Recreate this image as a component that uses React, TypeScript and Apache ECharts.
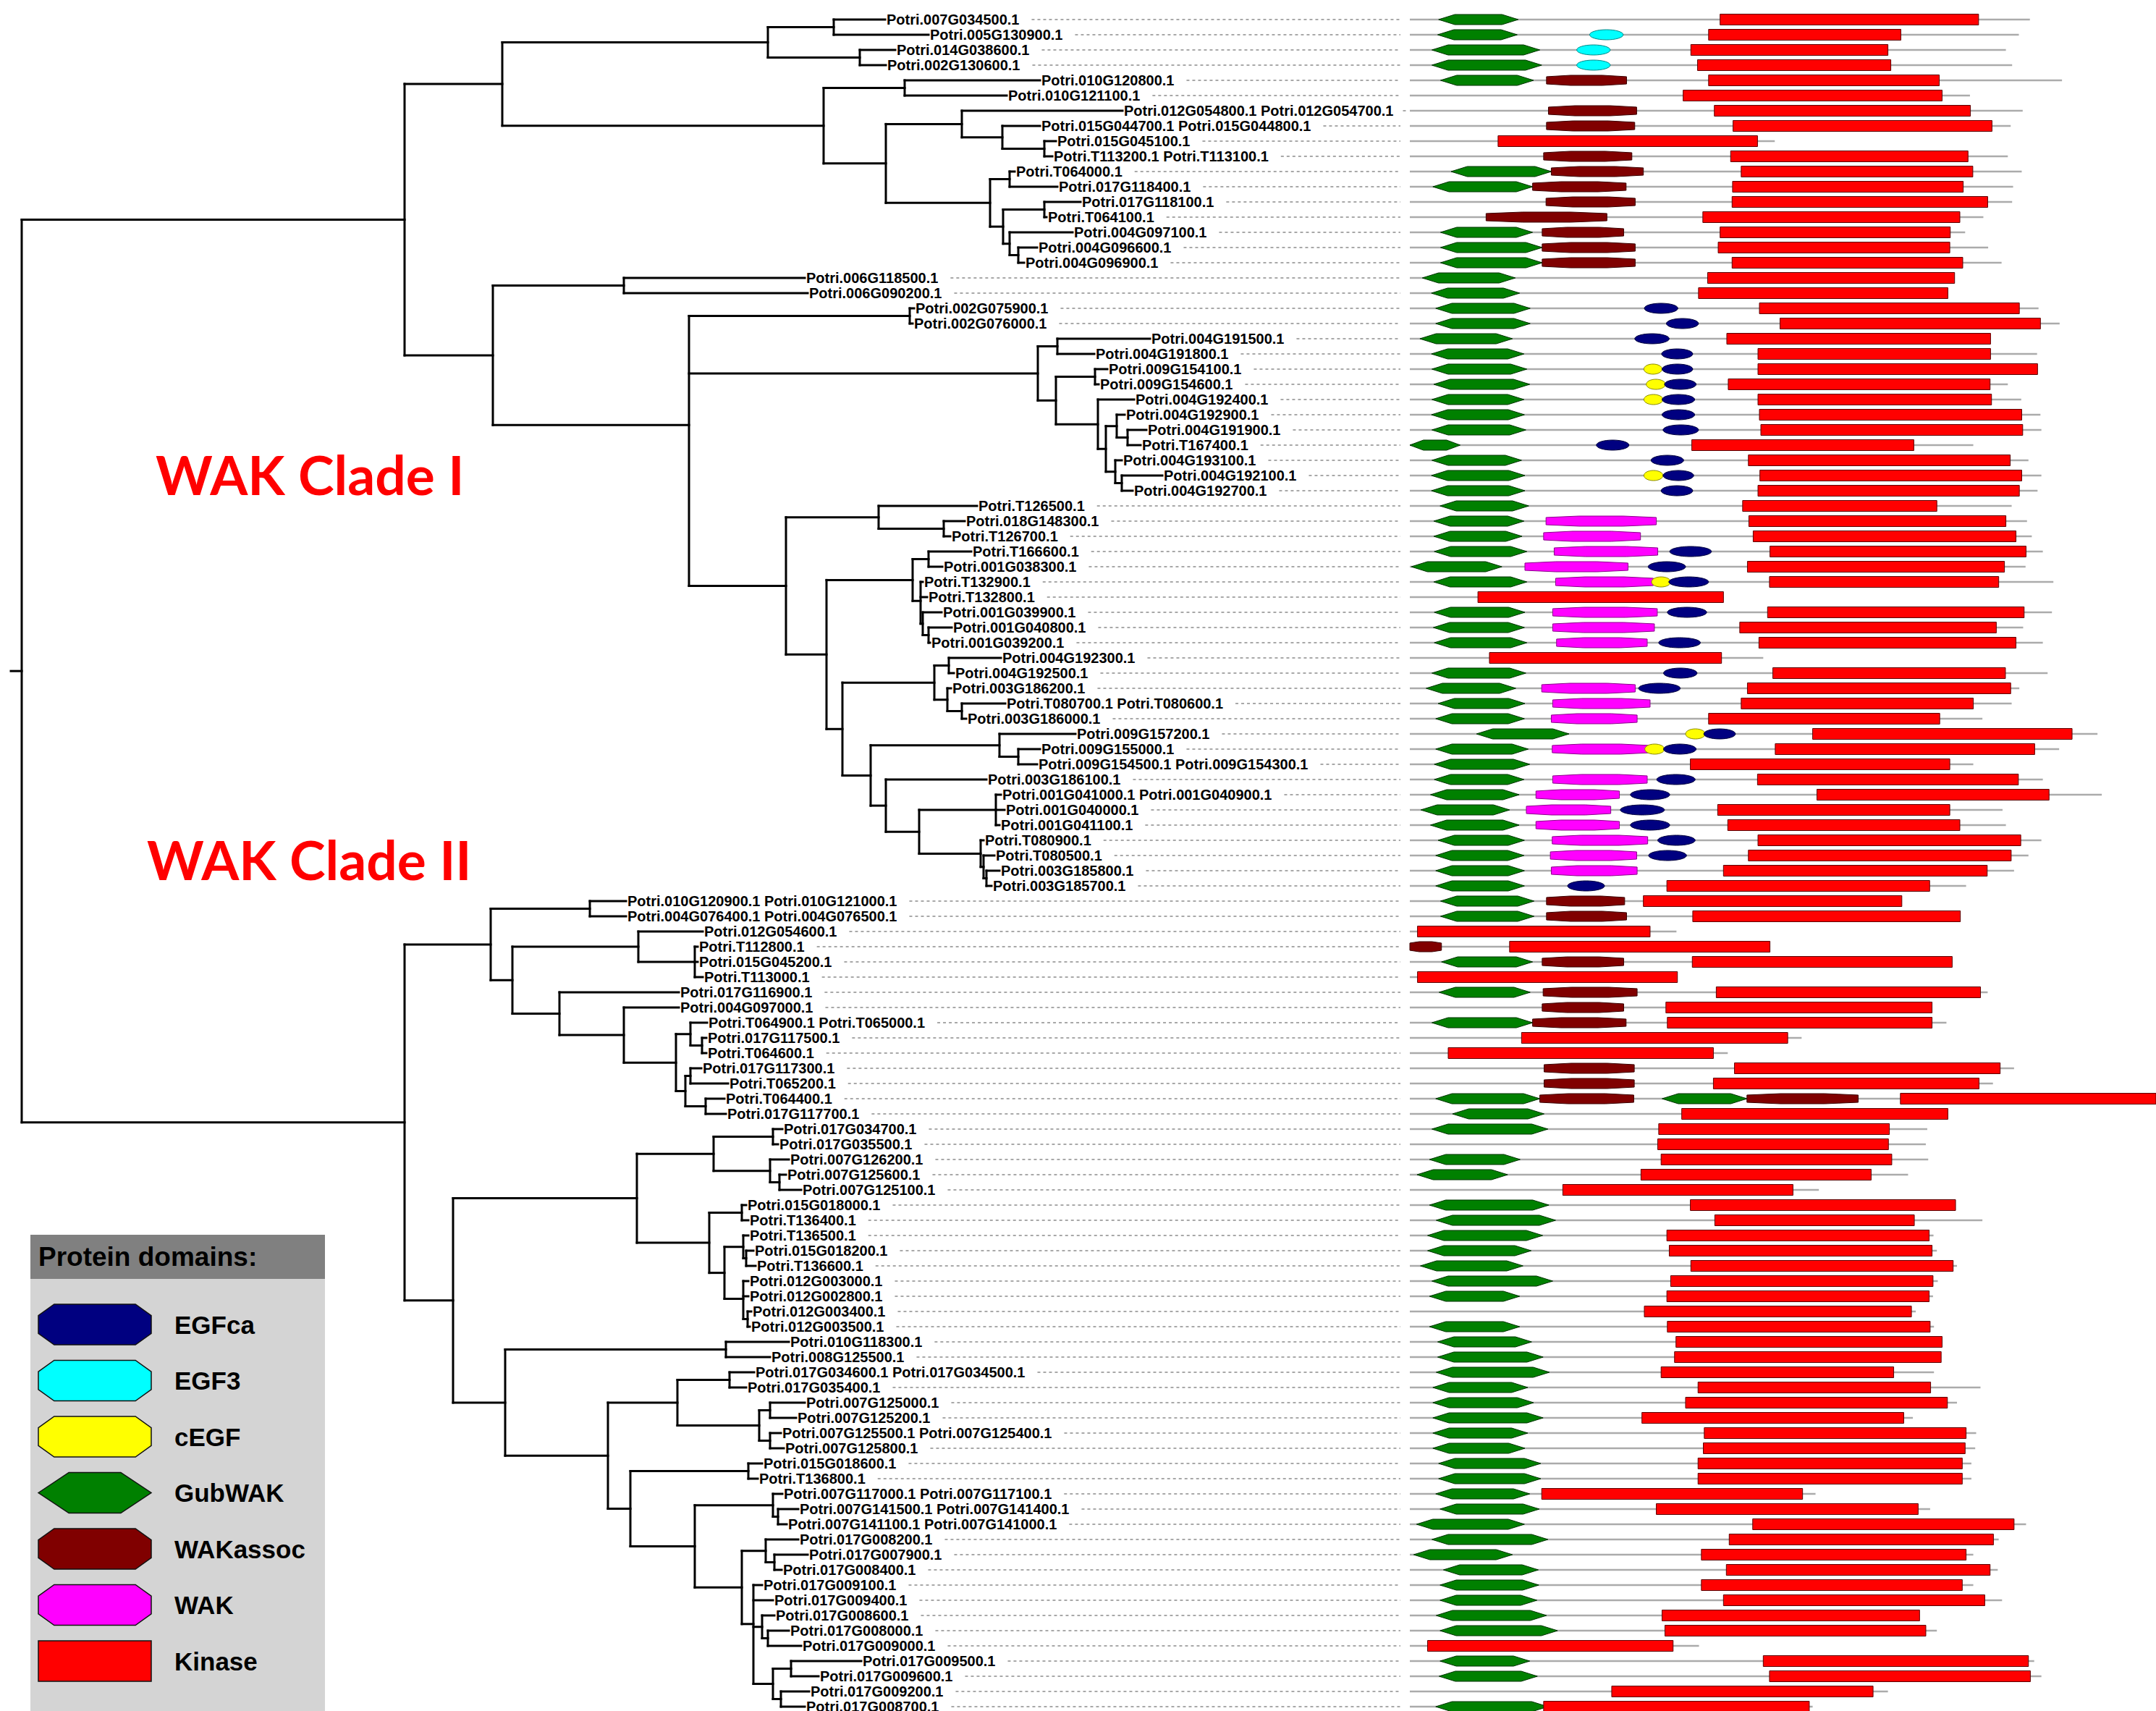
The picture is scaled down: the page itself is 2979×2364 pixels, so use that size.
import React, { useEffect, useRef } from "react";
import * as echarts from "echarts";

// ---------------- DATA ----------------
const leafLabels: string[] = [
  "Potri.007G034500.1", "Potri.005G130900.1", "Potri.014G038600.1", "Potri.002G130600.1",
  "Potri.010G120800.1", "Potri.010G121100.1", "Potri.012G054800.1 Potri.012G054700.1",
  "Potri.015G044700.1 Potri.015G044800.1", "Potri.015G045100.1", "Potri.T113200.1 Potri.T113100.1",
  "Potri.T064000.1", "Potri.017G118400.1", "Potri.017G118100.1", "Potri.T064100.1",
  "Potri.004G097100.1", "Potri.004G096600.1", "Potri.004G096900.1", "Potri.006G118500.1",
  "Potri.006G090200.1", "Potri.002G075900.1", "Potri.002G076000.1", "Potri.004G191500.1",
  "Potri.004G191800.1", "Potri.009G154100.1", "Potri.009G154600.1", "Potri.004G192400.1",
  "Potri.004G192900.1", "Potri.004G191900.1", "Potri.T167400.1", "Potri.004G193100.1",
  "Potri.004G192100.1", "Potri.004G192700.1", "Potri.T126500.1", "Potri.018G148300.1",
  "Potri.T126700.1", "Potri.T166600.1", "Potri.001G038300.1", "Potri.T132900.1",
  "Potri.T132800.1", "Potri.001G039900.1", "Potri.001G040800.1", "Potri.001G039200.1",
  "Potri.004G192300.1", "Potri.004G192500.1", "Potri.003G186200.1", "Potri.T080700.1 Potri.T080600.1",
  "Potri.003G186000.1", "Potri.009G157200.1", "Potri.009G155000.1", "Potri.009G154500.1 Potri.009G154300.1",
  "Potri.003G186100.1", "Potri.001G041000.1 Potri.001G040900.1", "Potri.001G040000.1", "Potri.001G041100.1",
  "Potri.T080900.1", "Potri.T080500.1", "Potri.003G185800.1", "Potri.003G185700.1",
  "Potri.010G120900.1 Potri.010G121000.1", "Potri.004G076400.1 Potri.004G076500.1", "Potri.012G054600.1", "Potri.T112800.1",
  "Potri.015G045200.1", "Potri.T113000.1", "Potri.017G116900.1", "Potri.004G097000.1",
  "Potri.T064900.1 Potri.T065000.1", "Potri.017G117500.1", "Potri.T064600.1", "Potri.017G117300.1",
  "Potri.T065200.1", "Potri.T064400.1", "Potri.017G117700.1", "Potri.017G034700.1",
  "Potri.017G035500.1", "Potri.007G126200.1", "Potri.007G125600.1", "Potri.007G125100.1",
  "Potri.015G018000.1", "Potri.T136400.1", "Potri.T136500.1", "Potri.015G018200.1",
  "Potri.T136600.1", "Potri.012G003000.1", "Potri.012G002800.1", "Potri.012G003400.1",
  "Potri.012G003500.1", "Potri.010G118300.1", "Potri.008G125500.1", "Potri.017G034600.1 Potri.017G034500.1",
  "Potri.017G035400.1", "Potri.007G125000.1", "Potri.007G125200.1", "Potri.007G125500.1 Potri.007G125400.1",
  "Potri.007G125800.1", "Potri.015G018600.1", "Potri.T136800.1", "Potri.007G117000.1 Potri.007G117100.1",
  "Potri.007G141500.1 Potri.007G141400.1", "Potri.007G141100.1 Potri.007G141000.1", "Potri.017G008200.1", "Potri.017G007900.1",
  "Potri.017G008400.1", "Potri.017G009100.1", "Potri.017G009400.1", "Potri.017G008600.1",
  "Potri.017G008000.1", "Potri.017G009000.1", "Potri.017G009500.1", "Potri.017G009600.1",
  "Potri.017G009200.1", "Potri.017G008700.1",
];

// Tree: leaves are row numbers (1-based); value after ":" is the node's distance from the root.
const cladeOneTree =
  "((((1:1193,2:1253):1122,(3:1207,4:1194):1158):1031," +
  "((5:1407,6:1361):1220,((7:1521,(8:1407,(9:1429,10:1424):1413):1355):1299,((11:1372,12:1431):1365,((13:1463,14:1416):1413,(15:1452,(16:1403,17:1385):1377):1365):1356):1338):1194):1108):664," +
  "((18:1082,19:1086):832," +
  "((20:1233,21:1231):1227," +
  "((22:1559,23:1482):1431,((24:1500,25:1488):1483,(26:1537,((27:1524,(28:1554,29:1546):1528):1513,(30:1520,(31:1576,32:1535):1520):1511):1498):1487):1429):1404," +
  "((33:1320,(34:1303,35:1283):1274):1184,(((36:1312,37:1272):1253,(38:1245,39:1251,(40:1271,(41:1285,42:1255):1253):1245):1242):1231," +
  "(((43:1353,44:1288):1281,(45:1284,(46:1359,47:1305):1299):1279):1261,((48:1456,(49:1407,50:1403):1377):1351,(51:1333,((52:1353,53:1358,54:1351):1346,(55:1329,(56:1344,(57:1351,58:1340):1333):1329):1325):1240):1194):1173):1134):1112):1056" +
  "):922):651):529";
const cladeTwoTree =
  "(((59:835,60:835):785,((61:941,(62:934,63:934,64:941):930):852,(65:908,(66:908,((67:947,(68:946,69:946):940):924,((70:939,71:976):924,(72:971,73:973):945):917):904):832):743):678):648," +
  "((((74:1051,75:1045):1038,(76:1060,(77:1056,78:1077):1047):1034):956,((79:1001,80:1004):995,((81:1004,(82:1011,83:1014):1001):997,(84:1004,85:1004,(86:1008,87:1006):1003):997):971):950):850," +
  "((88:1060,89:1034):973,(((90:1012,91:1001):978,((92:1082,93:1070):1034,(94:1049,95:1053):1034):1019):906,((96:1023,97:1017):1004,((98:1051,(99:1073,100:1057):1045):1038,((101:1073,(102:1086,103:1050):1040):1028,(104:1023,105:1038,(106:1040,(107:1060,108:1077):1031):1023,((109:1160,110:1101):1063,(111:1088,112:1082):1049):1038):1011):995):930):841):810):668" +
  "):596):529";
const treeNewick = "(" + cladeOneTree + "," + cladeTwoTree + "):0";
const rootStem = 15;

// protein length (aa-like units) per row
const proteinLength: number[] = [
  1293, 1270, 1243, 1256, 1360, 1168, 1278, 1253, 761, 1247,
  1276, 1258, 1256, 1196, 1158, 1206, 1234, 1136, 1122, 1311,
  1355, 1211, 1308, 1309, 1247, 1275, 1315, 1317, 1175, 1290,
  1317, 1309, 1255, 1287, 1297, 1320, 1284, 1342, 654, 1339,
  1279, 1320, 737, 1330, 1271, 1255, 1194, 1434, 1354, 1175,
  1320, 1443, 1236, 1243, 1317, 1290, 1260, 1160, 1026, 1148,
  556, 751, 1131, 558, 1205, 1089, 1119, 817, 663, 1260,
  1216, 1556, 1122, 1079, 1076, 1081, 1039, 853, 1138, 1194,
  1092, 1099, 1141, 1101, 1091, 1055, 1093, 1110, 1108, 1093,
  1190, 1141, 1049, 1181, 1179, 1171, 1171, 846, 1085, 1285,
  1228, 1175, 1226, 1175, 1235, 1063, 1099, 603, 1302, 1317,
  997, 840,
];

// domain features per row: [code, start, end]
// E=EGFca, C=EGF3, Y=cEGF, G=GubWAK, A=WAKassoc, W=WAK, K=Kinase
type Feat = [string, number, number];
const domainFeatures: Feat[][] = [
  [["G", 60, 226], ["K", 647, 1186]],
  [["G", 58, 224], ["C", 375, 445], ["K", 623, 1024]],
  [["G", 46, 271], ["C", 348, 418], ["K", 586, 997]],
  [["G", 46, 275], ["C", 348, 418], ["K", 600, 1003]],
  [["G", 64, 258], ["A", 285, 452], ["K", 623, 1104]],
  [["K", 570, 1110]],
  [["A", 289, 473], ["K", 635, 1169]],
  [["A", 285, 469], ["K", 674, 1214]],
  [["K", 184, 725]],
  [["A", 279, 463], ["K", 669, 1164]],
  [["G", 86, 295], ["A", 295, 487], ["K", 691, 1174]],
  [["G", 48, 256], ["A", 256, 451], ["K", 673, 1154]],
  [["A", 284, 470], ["K", 672, 1205]],
  [["A", 159, 411], ["K", 611, 1147]],
  [["G", 64, 256], ["A", 276, 446], ["K", 647, 1127]],
  [["G", 64, 276], ["A", 276, 470], ["K", 643, 1126]],
  [["G", 64, 276], ["A", 276, 470], ["K", 672, 1153]],
  [["G", 26, 220], ["K", 621, 1136]],
  [["G", 45, 229], ["K", 602, 1122]],
  [["G", 54, 251], ["E", 489, 559], ["K", 729, 1271]],
  [["G", 54, 251], ["E", 535, 602], ["K", 772, 1315]],
  [["G", 21, 214], ["E", 469, 541], ["K", 661, 1211]],
  [["G", 45, 238], ["E", 525, 590], ["K", 726, 1211]],
  [["G", 46, 244], ["Y", 488, 526], ["E", 526, 590], ["K", 726, 1309]],
  [["G", 50, 250], ["Y", 493, 533], ["E", 531, 597], ["K", 664, 1210]],
  [["G", 46, 238], ["Y", 488, 528], ["E", 526, 594], ["K", 726, 1213]],
  [["G", 45, 239], ["E", 526, 594], ["K", 729, 1276]],
  [["G", 46, 242], ["E", 528, 602], ["K", 732, 1278]],
  [["G", 0, 105], ["E", 389, 457], ["K", 588, 1051]],
  [["G", 46, 233], ["E", 503, 571], ["K", 706, 1252]],
  [["G", 45, 240], ["Y", 488, 528], ["E", 528, 592], ["K", 730, 1276]],
  [["G", 45, 240], ["E", 524, 590], ["K", 726, 1271]],
  [["G", 63, 248], ["K", 694, 1099]],
  [["G", 50, 238], ["W", 284, 514], ["K", 707, 1243]],
  [["G", 50, 234], ["W", 279, 481], ["K", 716, 1264]],
  [["G", 51, 244], ["W", 301, 517], ["E", 542, 629], ["K", 751, 1285]],
  [["G", 3, 192], ["W", 240, 455], ["E", 497, 575], ["K", 704, 1240]],
  [["G", 50, 244], ["W", 304, 508], ["Y", 504, 544], ["E", 540, 623], ["K", 750, 1228]],
  [["K", 142, 654]],
  [["G", 51, 240], ["W", 298, 516], ["E", 537, 619], ["K", 746, 1281]],
  [["G", 49, 239], ["W", 298, 510], ["K", 688, 1223]],
  [["G", 51, 244], ["W", 306, 495], ["E", 519, 606], ["K", 728, 1264]],
  [["K", 166, 650]],
  [["G", 46, 242], ["E", 529, 599], ["K", 757, 1242]],
  [["G", 34, 221], ["W", 275, 470], ["E", 477, 564], ["K", 704, 1253]],
  [["G", 59, 240], ["W", 298, 501], ["K", 691, 1175]],
  [["G", 54, 239], ["W", 295, 474], ["K", 623, 1105]],
  [["G", 139, 332], ["Y", 575, 616], ["E", 613, 679], ["K", 840, 1381]],
  [["G", 54, 247], ["W", 297, 501], ["Y", 490, 531], ["E", 529, 597], ["K", 762, 1303]],
  [["G", 51, 250], ["K", 585, 1126]],
  [["G", 51, 238], ["W", 298, 495], ["E", 515, 595], ["K", 725, 1269]],
  [["G", 43, 228], ["W", 263, 437], ["E", 460, 542], ["K", 849, 1333]],
  [["G", 23, 208], ["W", 243, 419], ["E", 439, 531], ["K", 642, 1126]],
  [["G", 43, 228], ["W", 263, 437], ["E", 460, 542], ["K", 663, 1147]],
  [["G", 59, 239], ["W", 297, 496], ["E", 517, 595], ["K", 726, 1274]],
  [["G", 54, 238], ["W", 293, 473], ["E", 498, 577], ["K", 706, 1254]],
  [["G", 54, 239], ["W", 295, 474], ["K", 654, 1204]],
  [["G", 54, 239], ["E", 329, 406], ["K", 536, 1084]],
  [["G", 64, 259], ["A", 285, 448], ["K", 487, 1026]],
  [["G", 64, 259], ["A", 285, 452], ["K", 590, 1148]],
  [["K", 16, 501]],
  [["A", 0, 66], ["K", 208, 751]],
  [["G", 66, 256], ["A", 276, 446], ["K", 589, 1131]],
  [["K", 16, 558]],
  [["G", 61, 251], ["A", 278, 474], ["K", 639, 1190]],
  [["A", 276, 446], ["K", 534, 1089]],
  [["G", 46, 256], ["A", 256, 451], ["K", 537, 1089]],
  [["K", 233, 788]],
  [["K", 80, 633]],
  [["A", 280, 468], ["K", 677, 1231]],
  [["A", 280, 468], ["K", 633, 1187]],
  [["G", 54, 271], ["A", 271, 467], ["G", 526, 703], ["A", 703, 935], ["K", 1023, 1556]],
  [["G", 89, 280], ["K", 567, 1122]],
  [["G", 46, 288], ["K", 519, 1000]],
  [["K", 517, 998]],
  [["G", 41, 230], ["K", 524, 1005]],
  [["G", 15, 204], ["K", 482, 962]],
  [["K", 319, 799]],
  [["G", 41, 290], ["K", 585, 1138]],
  [["G", 55, 304], ["K", 636, 1052]],
  [["G", 37, 277], ["K", 536, 1083]],
  [["G", 37, 253], ["K", 541, 1089]],
  [["G", 22, 236], ["K", 586, 1133]],
  [["G", 46, 298], ["K", 544, 1091]],
  [["G", 41, 229], ["K", 536, 1083]],
  [["K", 489, 1046]],
  [["G", 41, 229], ["K", 537, 1085]],
  [["G", 58, 254], ["K", 555, 1110]],
  [["G", 58, 278], ["K", 552, 1108]],
  [["G", 55, 291], ["K", 524, 1009]],
  [["G", 48, 246], ["K", 601, 1086]],
  [["G", 48, 258], ["K", 575, 1121]],
  [["G", 48, 278], ["K", 484, 1030]],
  [["G", 48, 246], ["K", 614, 1160]],
  [["G", 48, 240], ["K", 612, 1158]],
  [["G", 60, 273], ["K", 601, 1152]],
  [["G", 60, 273], ["K", 601, 1152]],
  [["G", 54, 250], ["K", 275, 819]],
  [["G", 63, 270], ["K", 514, 1060]],
  [["G", 14, 239], ["K", 715, 1260]],
  [["G", 46, 288], ["K", 666, 1217]],
  [["G", 8, 214], ["K", 608, 1160]],
  [["G", 70, 268], ["K", 660, 1210]],
  [["G", 63, 269], ["K", 608, 1152]],
  [["G", 63, 265], ["K", 654, 1199]],
  [["G", 55, 285], ["K", 526, 1063]],
  [["G", 63, 308], ["K", 532, 1076]],
  [["K", 37, 549]],
  [["G", 63, 250], ["K", 737, 1290]],
  [["G", 61, 266], ["K", 750, 1294]],
  [["K", 421, 966]],
  [["G", 54, 288], ["K", 279, 833]],
];

const domainCodes: string[] = ["E", "C", "Y", "G", "A", "W", "K"];
const domainNames: string[] = ["EGFca", "EGF3", "cEGF", "GubWAK", "WAKassoc", "WAK", "Kinase"];
const cladeTitles: string[] = ["WAK Clade I", "WAK Clade II"];
const legendTitle = "Protein domains:";

// ---------------- STYLE / LAYOUT ----------------
const W = 2979;
const H = 2364;
const FIRST_ROW_Y = 27;
const ROW_PITCH = 21;
const TREE_RIGHT = 1948; // px where the domain panel starts
const ROOT_X = 30;
const DOMAIN_MAX = 1556;

const domainFill: Record<string, string> = {
  E: "#000080", C: "#00ffff", Y: "#ffff00", G: "#008000", A: "#800000", W: "#ff00ff", K: "#ff0000",
};
const domainStroke: Record<string, string> = {
  E: "#00003a", C: "#008888", Y: "#8a8a00", G: "#003300", A: "#3a0000", W: "#8a008a", K: "#5a0000",
};

const LABEL_FONT_SIZE = 20;
const LABEL_FONT_WEIGHT = "bold";
const LABEL_FONT_FAMILY = '"Liberation Sans", Arial, sans-serif';

// ---------------- HELPERS ----------------
type TNode = { depth: number; leaf?: number; children: TNode[] };

function parseNewick(s: string): TNode {
  let i = 0;
  const num = () => {
    const j = i;
    while (i < s.length && /[0-9.\-]/.test(s[i])) i++;
    return parseFloat(s.slice(j, i));
  };
  const node = (): TNode => {
    const n: TNode = { depth: 0, children: [] };
    if (s[i] === "(") {
      i++;
      n.children.push(node());
      while (s[i] === ",") {
        i++;
        n.children.push(node());
      }
      i++; // ')'
    } else {
      n.leaf = num();
    }
    if (s[i] === ":") {
      i++;
      n.depth = num();
    }
    return n;
  };
  return node();
}

function buildTree() {
  const root = parseNewick(treeNewick);
  const segments: number[][] = [];
  const tips: number[][] = [];
  const walk = (n: TNode): number => {
    if (n.leaf !== undefined) {
      const y = n.leaf - 1;
      tips.push([n.depth, y, n.leaf - 1]);
      return y;
    }
    const ys = n.children.map(walk);
    const y = ys.reduce((a, b) => a + b, 0) / ys.length;
    segments.push([n.depth, Math.min(...ys), n.depth, Math.max(...ys)]);
    n.children.forEach((c, k) => segments.push([n.depth, ys[k], c.depth, ys[k]]));
    return y;
  };
  const ry = walk(root);
  segments.push([root.depth - rootStem, ry, root.depth, ry]);
  return { segments, tips };
}

let measureCtx: CanvasRenderingContext2D | null = null;
function textWidth(s: string, font: string): number {
  if (!measureCtx) measureCtx = document.createElement("canvas").getContext("2d");
  if (!measureCtx) return s.length * 10;
  measureCtx.font = font;
  return measureCtx.measureText(s).width;
}

function shapeFor(code: string, x0: number, x1: number, yc: number, h: number, legend = false): any {
  const w = x1 - x0;
  const top = yc - h / 2;
  const bot = yc + h / 2;
  const style = { fill: domainFill[code], stroke: legend ? "#111" : domainStroke[code], lineWidth: legend ? 1.5 : 1 };
  if (code === "K") {
    return { type: "rect", shape: { x: x0, y: top, width: w, height: h }, style };
  }
  if (code === "G") {
    const d = Math.min(w * 0.27, h * 1.6);
    return {
      type: "polygon",
      shape: { points: [[x0, yc], [x0 + d, top], [x1 - d, top], [x1, yc], [x1 - d, bot], [x0 + d, bot]] },
      style,
    };
  }
  if (code === "A" || code === "W" || legend) {
    const dx = legend ? w * 0.14 : w * 0.3;
    const dy = legend ? h * 0.22 : h * 0.36;
    return {
      type: "polygon",
      shape: {
        points: [
          [x0, yc - dy], [x0 + dx, top], [x1 - dx, top], [x1, yc - dy],
          [x1, yc + dy], [x1 - dx, bot], [x0 + dx, bot], [x0, yc + dy],
        ],
      },
      style,
    };
  }
  return { type: "ellipse", shape: { cx: (x0 + x1) / 2, cy: yc, rx: w / 2, ry: h / 2 }, style };
}

// ---------------- COMPONENT ----------------
export default function App() {
  const ref = useRef<HTMLDivElement>(null);

  useEffect(() => {
    if (!ref.current) return;
    const chart = echarts.init(ref.current, undefined, { renderer: "svg", width: W, height: H });
    const { segments, tips } = buildTree();

    const backbone = proteinLength.map((len, r) => [r, len]);
    const domainData: number[][] = [];
    domainFeatures.forEach((row, r) =>
      row.forEach(([code, s, e]) => domainData.push([s, e, r, domainCodes.indexOf(code)]))
    );

    const yMin = -FIRST_ROW_Y / ROW_PITCH;
    const yMax = (H - FIRST_ROW_Y) / ROW_PITCH;
    const labelFont = `${LABEL_FONT_WEIGHT} ${LABEL_FONT_SIZE}px ${LABEL_FONT_FAMILY}`;

    // legend graphic
    const legendX = 42;
    const legendW = 407;
    const legendTop = 1706;
    const headerH = 61;
    const itemY0 = 1830;
    const itemStep = 77.5;
    const legendChildren: any[] = [
      { type: "rect", shape: { x: legendX, y: legendTop, width: legendW, height: headerH }, style: { fill: "#808080" } },
      { type: "rect", shape: { x: legendX, y: legendTop + headerH, width: legendW, height: H - legendTop - headerH }, style: { fill: "#d4d4d4" } },
      {
        type: "text", x: 53, y: legendTop + headerH / 2,
        style: { text: legendTitle, fontSize: 37, fontWeight: "bold", fontFamily: LABEL_FONT_FAMILY, fill: "#000", verticalAlign: "middle", align: "left" },
      },
    ];
    domainNames.forEach((name, k) => {
      const yc = itemY0 + k * itemStep;
      legendChildren.push(shapeFor(domainCodes[k], 53, 209, yc, 56, true));
      legendChildren.push({
        type: "text", x: 241, y: yc,
        style: { text: name, fontSize: 35, fontWeight: "bold", fontFamily: LABEL_FONT_FAMILY, fill: "#000", verticalAlign: "middle", align: "left" },
      });
    });

    const option: any = {
      animation: false,
      backgroundColor: "#ffffff",
      grid: [
        { left: 0, top: 0, width: TREE_RIGHT, height: H },
        { left: TREE_RIGHT, top: 0, width: W - TREE_RIGHT, height: H },
      ],
      xAxis: [
        { gridIndex: 0, type: "value", min: -ROOT_X, max: TREE_RIGHT - ROOT_X, show: false },
        { gridIndex: 1, type: "value", min: 0, max: DOMAIN_MAX, show: false },
      ],
      yAxis: [
        { gridIndex: 0, type: "value", min: yMin, max: yMax, inverse: true, show: false },
        { gridIndex: 1, type: "value", min: yMin, max: yMax, inverse: true, show: false },
      ],
      graphic: [
        {
          type: "text", x: 215, y: 655,
          style: { text: cladeTitles[0], fontSize: 75, fontWeight: "bold", fontFamily: "Lato, 'Open Sans', sans-serif", fill: "#ff0000", verticalAlign: "middle", align: "left" },
        },
        {
          type: "text", x: 203, y: 1187,
          style: { text: cladeTitles[1], fontSize: 75, fontWeight: "bold", fontFamily: "Lato, 'Open Sans', sans-serif", fill: "#ff0000", verticalAlign: "middle", align: "left" },
        },
        { type: "group", children: legendChildren },
      ],
      series: [
        {
          type: "custom",
          name: "tree",
          coordinateSystem: "cartesian2d",
          xAxisIndex: 0,
          yAxisIndex: 0,
          silent: true,
          data: segments,
          renderItem: (_p: any, api: any) => {
            const a = api.coord([api.value(0), api.value(1)]);
            const b = api.coord([api.value(2), api.value(3)]);
            return {
              type: "line",
              shape: { x1: a[0], y1: a[1], x2: b[0], y2: b[1] },
              style: { stroke: "#000", lineWidth: 3, lineCap: "square" },
            };
          },
        },
        {
          type: "custom",
          name: "labels",
          coordinateSystem: "cartesian2d",
          xAxisIndex: 0,
          yAxisIndex: 0,
          silent: true,
          data: tips,
          renderItem: (params: any, api: any) => {
            const p = api.coord([api.value(0), api.value(1)]);
            const name = leafLabels[api.value(2)];
            const w = textWidth(name, labelFont);
            const endX = params.coordSys.x + params.coordSys.width - 13;
            const tx = p[0] + 2;
            return {
              type: "group",
              children: [
                {
                  type: "text", x: tx, y: p[1],
                  style: { text: name, fontSize: LABEL_FONT_SIZE, fontWeight: LABEL_FONT_WEIGHT, fontFamily: LABEL_FONT_FAMILY, fill: "#000", align: "left", verticalAlign: "middle" },
                },
                {
                  type: "line",
                  shape: { x1: tx + w + 17, y1: p[1], x2: endX, y2: p[1] },
                  style: { stroke: "#8c8c8c", lineWidth: 1.5, lineDash: [4, 4] },
                },
              ],
            };
          },
        },
        {
          type: "custom",
          name: "backbone",
          coordinateSystem: "cartesian2d",
          xAxisIndex: 1,
          yAxisIndex: 1,
          silent: true,
          data: backbone,
          renderItem: (_p: any, api: any) => {
            const a = api.coord([0, api.value(0)]);
            const b = api.coord([api.value(1), api.value(0)]);
            return {
              type: "line",
              shape: { x1: a[0], y1: a[1], x2: b[0], y2: b[1] },
              style: { stroke: "#ababab", lineWidth: 2.5 },
            };
          },
        },
        {
          type: "custom",
          name: "domains",
          coordinateSystem: "cartesian2d",
          xAxisIndex: 1,
          yAxisIndex: 1,
          silent: true,
          data: domainData,
          renderItem: (_p: any, api: any) => {
            const a = api.coord([api.value(0), api.value(2)]);
            const b = api.coord([api.value(1), api.value(2)]);
            const code = domainCodes[api.value(3)];
            return shapeFor(code, a[0], b[0], a[1], code === "K" ? 15 : 14);
          },
        },
      ],
    };
    chart.setOption(option);
    return () => chart.dispose();
  }, []);

  return (
    <div
      ref={ref}
      style={{ position: "absolute", left: 0, top: 0, width: W, height: H, background: "#fff" }}
    />
  );
}
